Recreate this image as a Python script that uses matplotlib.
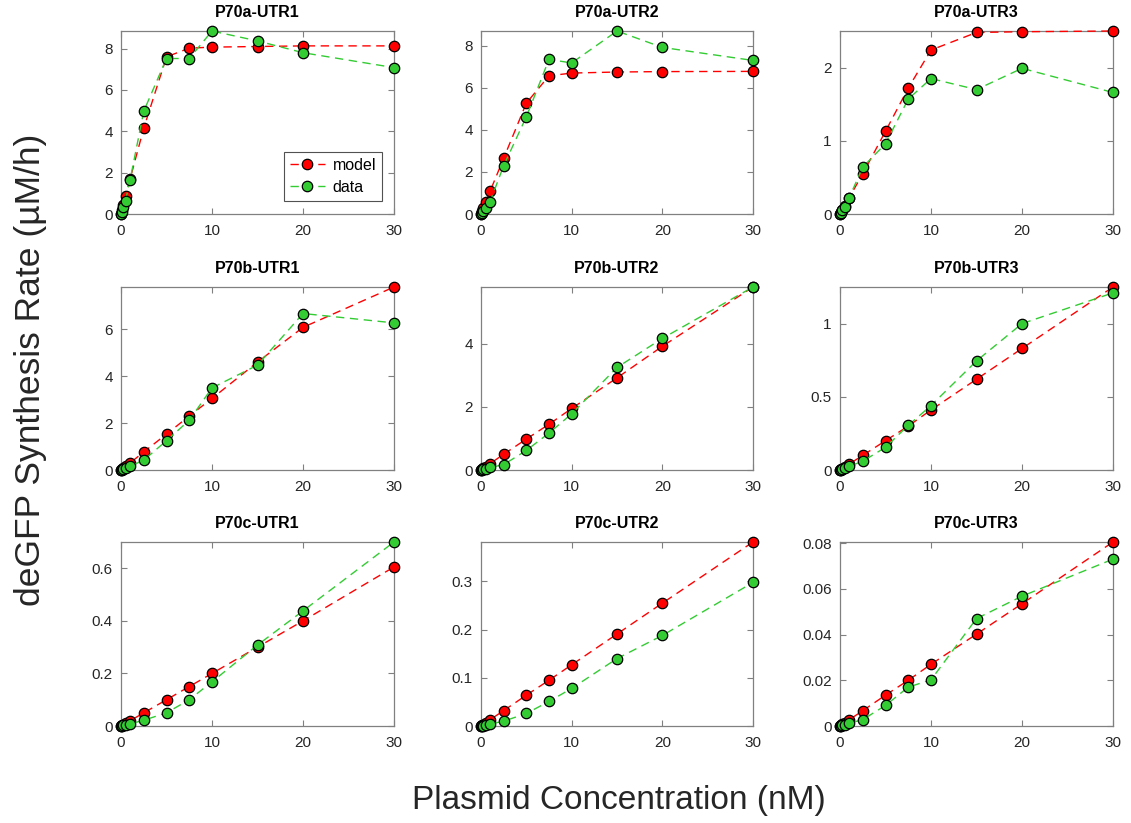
import matplotlib
matplotlib.use("Agg")
import matplotlib.pyplot as plt
import numpy as np

plt.rcParams['font.family'] = ['Liberation Sans', 'DejaVu Sans']

conc = [0, 0.125, 0.25, 0.5, 1, 2.5, 5, 7.5, 10, 15, 20, 30]

titles = ["P70a-UTR1", "P70a-UTR2", "P70a-UTR3",
          "P70b-UTR1", "P70b-UTR2", "P70b-UTR3",
          "P70c-UTR1", "P70c-UTR2", "P70c-UTR3"]

model_a1 = [0, 0.2, 0.42, 0.85, 1.7, 4.15, 7.6, 8.02, 8.07, 8.1, 8.13, 8.13]
data_a1 = [0, 0.12, 0.35, 0.65, 1.65, 4.97, 7.52, 7.52, 8.85, 8.37, 7.8, 7.08]
model_a2 = [0, 0.13, 0.27, 0.55, 1.08, 2.65, 5.27, 6.57, 6.7, 6.75, 6.77, 6.78]
data_a2 = [0, 0.05, 0.13, 0.3, 0.58, 2.3, 4.62, 7.35, 7.18, 8.7, 7.92, 7.3]
model_a3 = [0, 0.03, 0.06, 0.11, 0.22, 0.55, 1.13, 1.72, 2.24, 2.48, 2.49, 2.5]
data_a3 = [0, 0.02, 0.05, 0.1, 0.22, 0.64, 0.96, 1.57, 1.85, 1.7, 1.99, 1.66]
model_b1 = [0, 0.04, 0.08, 0.15, 0.3, 0.77, 1.53, 2.3, 3.05, 4.6, 6.08, 7.8]
data_b1 = [0, 0.02, 0.04, 0.08, 0.16, 0.42, 1.25, 2.12, 3.5, 4.47, 6.67, 6.27]
model_b2 = [0, 0.03, 0.05, 0.1, 0.2, 0.5, 0.98, 1.45, 1.95, 2.92, 3.92, 5.8]
data_b2 = [0, 0.01, 0.02, 0.04, 0.08, 0.17, 0.62, 1.17, 1.78, 3.25, 4.17, 5.8]
model_b3 = [0, 0.005, 0.01, 0.02, 0.04, 0.1, 0.2, 0.3, 0.41, 0.62, 0.83, 1.25]
data_b3 = [0, 0.003, 0.006, 0.012, 0.025, 0.06, 0.155, 0.305, 0.44, 0.745, 1.0, 1.21]
model_c1 = [0, 0.002, 0.005, 0.01, 0.02, 0.05, 0.1, 0.15, 0.2, 0.3, 0.4, 0.605]
data_c1 = [0, 0.001, 0.002, 0.004, 0.008, 0.022, 0.05, 0.1, 0.168, 0.308, 0.438, 0.7]
model_c2 = [0, 0.0013, 0.003, 0.006, 0.013, 0.032, 0.064, 0.095, 0.127, 0.191, 0.255, 0.382]
data_c2 = [0, 0.0005, 0.001, 0.002, 0.004, 0.01, 0.026, 0.051, 0.078, 0.14, 0.188, 0.298]
model_c3 = [0, 0.0003, 0.0007, 0.0013, 0.0027, 0.0067, 0.0135, 0.02, 0.027, 0.0402, 0.0535, 0.0805]
data_c3 = [0, 0.0001, 0.0003, 0.0006, 0.0012, 0.0028, 0.009, 0.017, 0.0202, 0.047, 0.0568, 0.073]

models = [model_a1, model_a2, model_a3, model_b1, model_b2, model_b3, model_c1, model_c2, model_c3]
datas = [data_a1, data_a2, data_a3, data_b1, data_b2, data_b3, data_c1, data_c2, data_c3]

yticks = [[0, 2, 4, 6, 8], [0, 2, 4, 6, 8], [0, 1, 2],
          [0, 2, 4, 6], [0, 2, 4], [0, 0.5, 1],
          [0, 0.2, 0.4, 0.6], [0, 0.1, 0.2, 0.3], [0, 0.02, 0.04, 0.06, 0.08]]
yticklabels = [["0", "2", "4", "6", "8"], ["0", "2", "4", "6", "8"], ["0", "1", "2"],
               ["0", "2", "4", "6"], ["0", "2", "4"], ["0", "0.5", "1"],
               ["0", "0.2", "0.4", "0.6"], ["0", "0.1", "0.2", "0.3"],
               ["0", "0.02", "0.04", "0.06", "0.08"]]
xticks = [0, 10, 20, 30]

W, H = 1131, 823
fig = plt.figure(figsize=(W / 100, H / 100), dpi=100)

cols = [(121, 394), (481, 753), (840, 1113)]
rows = [(31, 214), (287, 470), (542, 726)]

red = '#ff0000'
green = '#33cc33'
axcol = '#808080'
txtcol = '#262626'

for i in range(9):
    r, c = divmod(i, 3)
    x0, x1 = cols[c]
    y0, y1 = rows[r]
    ax = fig.add_axes([x0 / W, 1 - y1 / H, (x1 - x0) / W, (y1 - y0) / H])
    m = models[i]
    d = datas[i]
    ax.plot(conc, m, linestyle=(0, (6, 4)), color=red, lw=1.0, marker='o',
            markerfacecolor=red, markeredgecolor='black', markeredgewidth=0.9,
            markersize=7.5, label='model', clip_on=False, zorder=3)
    ax.plot(conc, d, linestyle=(0, (6, 4)), color=green, lw=1.0, marker='o',
            markerfacecolor=green, markeredgecolor='black', markeredgewidth=0.9,
            markersize=7.5, label='data', clip_on=False, zorder=4)
    ax.set_xlim(0, 30)
    ax.set_ylim(0, max(max(m), max(d)))
    ax.set_xticks(xticks)
    ax.set_xticklabels([str(t) for t in xticks])
    ax.set_yticks(yticks[i])
    ax.set_yticklabels(yticklabels[i])
    ax.tick_params(direction='in', top=True, right=True, length=4, width=0.8,
                   color=axcol, labelcolor=txtcol, labelsize=11)
    ax.tick_params(axis='x', pad=7)
    ax.tick_params(axis='y', pad=6)
    for s in ax.spines.values():
        s.set_color(axcol)
        s.set_linewidth(0.9)
    ax.set_title(titles[i], fontsize=11.5, fontweight='bold', color='black', pad=10)
    if i == 0:
        leg = ax.legend(loc='lower right', fontsize=11.5, frameon=True, fancybox=False,
                        edgecolor='#262626', handlelength=2.2, borderpad=0.35,
                        labelspacing=0.45, handletextpad=0.5,
                        bbox_to_anchor=(0.985, 0.03))
        leg.get_frame().set_linewidth(0.8)

fig.text(31 / W, 1 - 370 / H, 'deGFP Synthesis Rate (µM/h)', rotation=90,
         ha='center', va='center', fontsize=25.5, color='#262626')
fig.text(619 / W, 1 - 801 / H, 'Plasmid Concentration (nM)', ha='center', va='center',
         fontsize=24, color='#262626')

fig.savefig('out.png', dpi=100)
